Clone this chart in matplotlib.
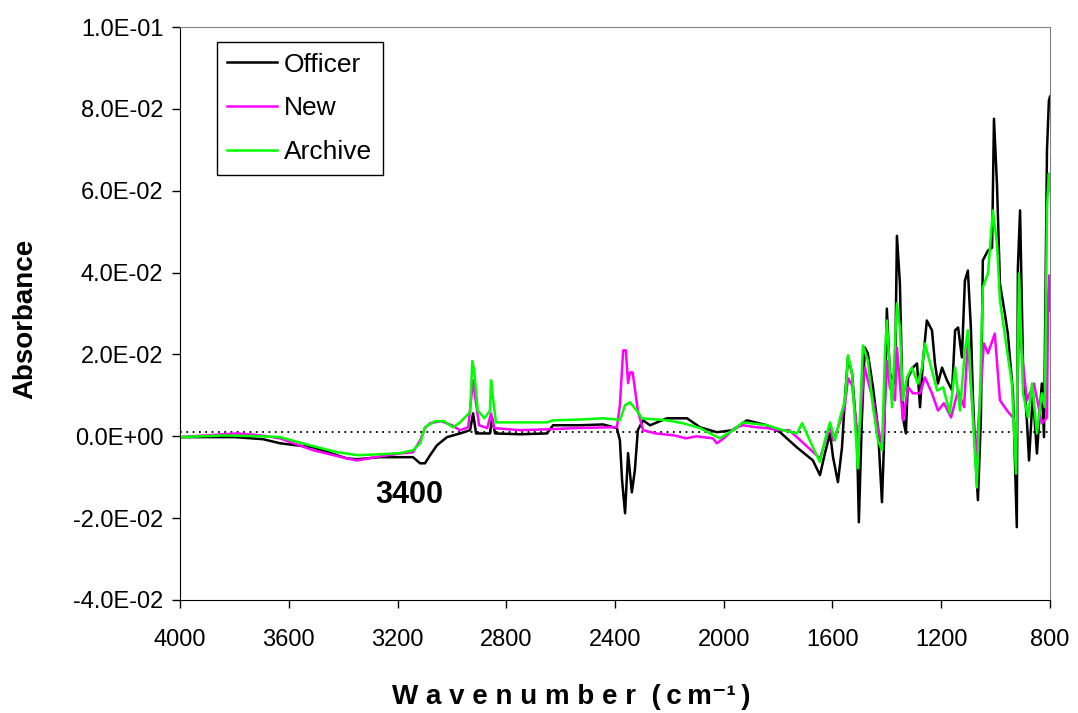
import numpy as np
import matplotlib
matplotlib.use("Agg")
import matplotlib.pyplot as plt
import matplotlib.ticker as mticker

plt.rcParams.update({
    "font.family": ["Liberation Sans", "DejaVu Sans"],
    "font.size": 17,
})

# ── data ─────────────────────────────────────────────────────────────────────
officer_wn = [4000, 3798, 3695, 3632, 3511, 3386, 3349, 3264, 3143, 3117, 3099, 3080,
              3055, 3018, 2970, 2933, 2922, 2911, 2860, 2852, 2841, 2750, 2650, 2628,
              2529, 2444, 2393, 2382, 2374, 2363, 2352, 2338, 2327, 2316, 2297, 2271,
              2209, 2135, 2087, 2025, 1966, 1915, 1841, 1793, 1731, 1672, 1646, 1628,
              1609, 1598, 1580, 1565, 1554, 1543, 1528, 1510, 1503, 1492, 1481, 1470,
              1451, 1433, 1418, 1411, 1400, 1389, 1370, 1363, 1352, 1341, 1330, 1322,
              1304, 1289, 1278, 1267, 1253, 1234, 1223, 1212, 1197, 1179, 1160, 1149,
              1138, 1124, 1113, 1102, 1091, 1083, 1072, 1065, 1054, 1047, 1028, 1013,
              1006, 995, 984, 966, 955, 936, 922, 918, 910, 899, 885, 877, 863, 848,
              830, 822, 811, 804, 800]
officer_abs = [-0.0002, -0.0002, -0.0007, -0.0017, -0.0027, -0.0054, -0.0056, -0.0051,
               -0.0051, -0.0066, -0.0066, -0.0046, -0.0022, -0.0002, 0.0007, 0.0015,
               0.0056, 0.0007, 0.0007, 0.0044, 0.0007, 0.0005, 0.0007, 0.0027, 0.0027,
               0.0029, 0.0020, -0.0010, -0.0107, -0.0188, -0.0041, -0.0137, -0.0083,
               0.0015, 0.0039, 0.0027, 0.0044, 0.0044, 0.0022, 0.0010, 0.0015, 0.0039,
               0.0027, 0.0010, -0.0027, -0.0059, -0.0095, -0.0042, 0.0007, -0.0051,
               -0.0112, -0.0027, 0.0095, 0.0193, 0.0154, -0.0002, -0.0210, 0.0039,
               0.0217, 0.0203, 0.0120, 0.0022, -0.0161, -0.0027, 0.0312, 0.0154, 0.0129,
               0.0490, 0.0373, 0.0046, 0.0007, 0.0144, 0.0168, 0.0178, 0.0071, 0.0185,
               0.0283, 0.0259, 0.0178, 0.0129, 0.0168, 0.0137, 0.0112, 0.0259, 0.0266,
               0.0193, 0.0380, 0.0405, 0.0266, 0.0088, -0.0076, -0.0156, 0.0046, 0.0430,
               0.0454, 0.0461, 0.0776, 0.0617, 0.0373, 0.0300, 0.0251, 0.0105, -0.0222,
               0.0413, 0.0552, 0.0168, 0.0039, -0.0059, 0.0105, -0.0042, 0.0129, -0.0002,
               0.0699, 0.0820, 0.0830]

new_wn = [4000, 3840, 3790, 3700, 3632, 3511, 3386, 3349, 3264, 3190, 3143, 3117, 3099,
          3080, 3040, 3000, 2970, 2940, 2922, 2915, 2900, 2870, 2856, 2845, 2750, 2650,
          2550, 2420, 2393, 2382, 2370, 2360, 2352, 2345, 2335, 2316, 2297, 2250, 2180,
          2140, 2100, 2040, 2025, 2000, 1960, 1930, 1880, 1841, 1800, 1760, 1731, 1690,
          1646, 1628, 1609, 1598, 1580, 1565, 1554, 1543, 1528, 1510, 1503, 1492, 1481,
          1470, 1451, 1433, 1418, 1411, 1400, 1389, 1370, 1363, 1352, 1341, 1322, 1304,
          1278, 1260, 1234, 1212, 1190, 1164, 1138, 1116, 1102, 1087, 1072, 1058, 1043,
          1028, 1003, 984, 958, 936, 922, 914, 885, 859, 830, 811, 807, 803, 800]
new_abs = [-0.0002, 0.0005, 0.0007, 0.0002, -0.0005, -0.0034, -0.0054, -0.0059, -0.0049,
           -0.0042, -0.0039, -0.0010, 0.0020, 0.0032, 0.0037, 0.0027, 0.0015, 0.0022,
           0.0137, 0.0100, 0.0027, 0.0020, 0.0056, 0.0020, 0.0015, 0.0017, 0.0020,
           0.0022, 0.0022, 0.0076, 0.0210, 0.0210, 0.0130, 0.0156, 0.0156, 0.0063,
           0.0015, 0.0007, 0.0002, -0.0005, 0.0000, -0.0005, -0.0017, -0.0005, 0.0020,
           0.0027, 0.0022, 0.0020, 0.0015, 0.0015, -0.0002, -0.0027, -0.0054, -0.0015,
           0.0027, -0.0010, 0.0020, 0.0051, 0.0076, 0.0142, 0.0125, 0.0015, -0.0022,
           0.0100, 0.0168, 0.0137, 0.0088, 0.0022, -0.0022, 0.0015, 0.0185, 0.0120,
           0.0088, 0.0217, 0.0129, 0.0039, 0.0120, 0.0105, 0.0105, 0.0144, 0.0105,
           0.0063, 0.0081, 0.0046, 0.0112, 0.0071, 0.0235, 0.0088, -0.0059, 0.0088,
           0.0227, 0.0203, 0.0251, 0.0088, 0.0063, 0.0046, 0.0007, 0.0270, 0.0088,
           0.0129, 0.0032, 0.0046, 0.0332, 0.0393, 0.0307]

archive_wn = [4000, 3840, 3700, 3632, 3511, 3420, 3349, 3264, 3190, 3143, 3117, 3099,
              3062, 3030, 2996, 2970, 2933, 2925, 2918, 2905, 2880, 2860, 2856, 2850,
              2838, 2750, 2650, 2628, 2529, 2444, 2393, 2382, 2363, 2345, 2320, 2301,
              2209, 2150, 2087, 2015, 1966, 1930, 1841, 1793, 1731, 1712, 1672, 1646,
              1628, 1609, 1591, 1572, 1554, 1543, 1528, 1507, 1488, 1470, 1451, 1433,
              1418, 1407, 1400, 1381, 1363, 1352, 1341, 1326, 1308, 1286, 1271, 1260,
              1241, 1215, 1193, 1168, 1149, 1131, 1113, 1102, 1087, 1069, 1058, 1047,
              1028, 1010, 995, 984, 958, 940, 925, 914, 899, 881, 866, 848, 830, 819,
              811, 804, 800]
archive_abs = [-0.0002, 0.0002, 0.0000, -0.0002, -0.0024, -0.0039, -0.0046, -0.0044,
               -0.0041, -0.0034, -0.0017, 0.0022, 0.0037, 0.0037, 0.0022, 0.0034,
               0.0059, 0.0184, 0.0161, 0.0063, 0.0044, 0.0063, 0.0137, 0.0100, 0.0034,
               0.0034, 0.0034, 0.0039, 0.0041, 0.0044, 0.0041, 0.0039, 0.0076, 0.0083,
               0.0063, 0.0044, 0.0039, 0.0032, 0.0020, -0.0005, 0.0015, 0.0034, 0.0027,
               0.0017, 0.0007, 0.0032, -0.0027, -0.0063, -0.0010, 0.0034, -0.0010,
               0.0046, 0.0088, 0.0198, 0.0154, -0.0078, 0.0222, 0.0185, 0.0071,
               -0.0010, -0.0034, 0.0203, 0.0283, 0.0071, 0.0325, 0.0266, 0.0088,
               0.0144, 0.0168, 0.0129, 0.0168, 0.0227, 0.0178, 0.0112, 0.0120, 0.0056,
               0.0168, 0.0063, 0.0210, 0.0259, 0.0088, -0.0125, 0.0088, 0.0364, 0.0398,
               0.0552, 0.0471, 0.0332, 0.0210, 0.0129, -0.0091, 0.0398, 0.0105, 0.0046,
               0.0129, 0.0007, 0.0105, 0.0071, 0.0560, 0.0642, 0.0600]

baseline = 0.001
x_ticks = [4000, 3600, 3200, 2800, 2400, 2000, 1600, 1200, 800]
y_ticks = [-0.04, -0.02, 0.0, 0.02, 0.04, 0.06, 0.08, 0.10]

# ── figure ───────────────────────────────────────────────────────────────────
fig = plt.figure(figsize=(10.78, 7.13), dpi=100)
ax = fig.add_axes([0.167, 0.1585, 0.807, 0.8035])

ax.plot(officer_wn, officer_abs, color="black", lw=1.8, label="Officer")
ax.plot(new_wn, new_abs, color="#FF00FF", lw=1.8, label="New")
ax.plot(archive_wn, archive_abs, color="#00FF00", lw=1.8, label="Archive")
ax.axhline(baseline, color="black", lw=1.3, linestyle=(0, (1, 2.5)), zorder=0)

ax.set_xlim(4000, 800)
ax.set_ylim(-0.04, 0.10)
ax.set_xticks(x_ticks)
ax.set_yticks(y_ticks)
ax.yaxis.set_major_formatter(mticker.FormatStrFormatter("%.1E"))
ax.tick_params(direction="out", length=6, width=1, labelsize=17, pad=6)
ax.tick_params(axis="x", pad=15)

for s in ["top", "right"]:
    ax.spines[s].set_color("#808080")
for s in ["left", "bottom"]:
    ax.spines[s].set_color("black")

ts = "\u2009"
xlab = " ".join("Wavenumber") + "  (" + ts + "c" + ts + "m\u207b\u00b9" + ts + ")"
fig.text(571 / 1078, 1 - 697 / 713, xlab, fontsize=20, fontweight="bold",
         ha="center", va="center")
fig.text(25 / 1078, 1 - 319 / 713, "Absorbance", fontsize=20, fontweight="bold",
         rotation=90, ha="center", va="center")

ax.text(3158, -0.0144, "3400", fontsize=22, fontweight="bold", ha="center", va="center")

leg = ax.legend(loc="upper left", bbox_to_anchor=(0.042, 0.974), fancybox=False,
                edgecolor="black", framealpha=1, fontsize=19, handlelength=1.9,
                handletextpad=0.25, labelspacing=0.75, borderpad=0.4,
                borderaxespad=0)
leg.get_frame().set_linewidth(1.0)

fig.savefig("out.png", dpi=100)
